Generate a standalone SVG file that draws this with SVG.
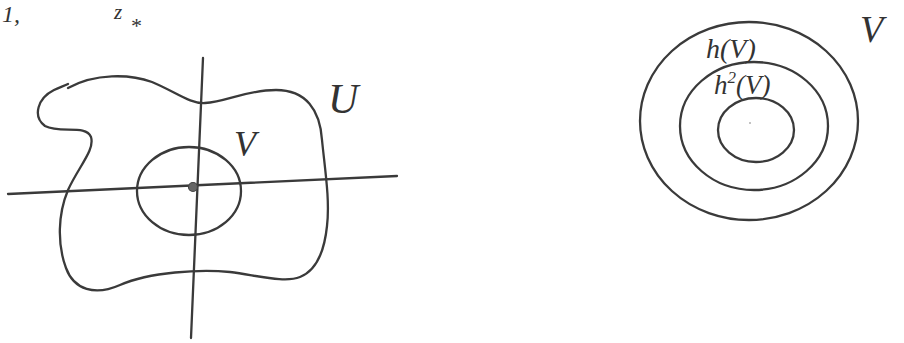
<svg xmlns="http://www.w3.org/2000/svg" width="904" height="343" viewBox="0 0 904 343">
<style>
.s{fill:none;stroke:#3a3a3a;stroke-width:2.3;stroke-linecap:round;stroke-linejoin:round}
.t{font-family:"Liberation Serif","DejaVu Serif",serif;font-style:italic;fill:#333}
</style>
<rect width="904" height="343" fill="#fff"/>
<g id="top-text">
<text class="t" x="2" y="22" font-size="24">1,</text>
<text class="t" x="114" y="19" font-size="21">z</text>
<text class="t" x="130" y="33" font-size="22">*</text>
</g>
<g id="axes">
<line class="s" x1="203" y1="58" x2="191" y2="338"/>
<line class="s" x1="8" y1="194" x2="397" y2="176"/>
<circle cx="193" cy="187" r="4.5" fill="#666" stroke="#444" stroke-width="1.2"/>
</g>
<g id="region-U">
<path class="s" d="M 68,88 C 95,73 130,74 152,82 C 176,92 190,104 205,103 C 226,102 246,90 276,90 C 306,90 320,110 322,140 C 325,170 330,200 327,226 C 324,255 315,271 300,277 C 285,283 260,276 230,272 C 200,269 150,272 120,285 C 95,296 74,290 66,268 C 57,244 58,214 68,190 C 79,166 95,150 91,137 C 86,124 60,134 45,126 C 32,116 38,98 54,90 C 60,87 64,86 68,84"/>
<text class="t" x="328" y="113" font-size="42">U</text>
</g>
<g id="region-V">
<ellipse class="s" cx="189" cy="191" rx="52" ry="44"/>
<text class="t" x="234" y="156" font-size="36">V</text>
</g>
<g id="nested">
<ellipse class="s" cx="749" cy="121" rx="109" ry="99"/>
<ellipse class="s" cx="754" cy="126" rx="74" ry="64"/>
<ellipse class="s" cx="756" cy="130" rx="38" ry="32"/>
<circle cx="750" cy="123" r="0.8" fill="#777"/>
<text class="t" x="706" y="58" font-size="28">h(V)</text>
<text class="t" x="714" y="94" font-size="27">h<tspan font-size="17" dy="-11">2</tspan><tspan dy="11">(V)</tspan></text>
<text class="t" x="860" y="42" font-size="38">V</text>
</g>
</svg>
